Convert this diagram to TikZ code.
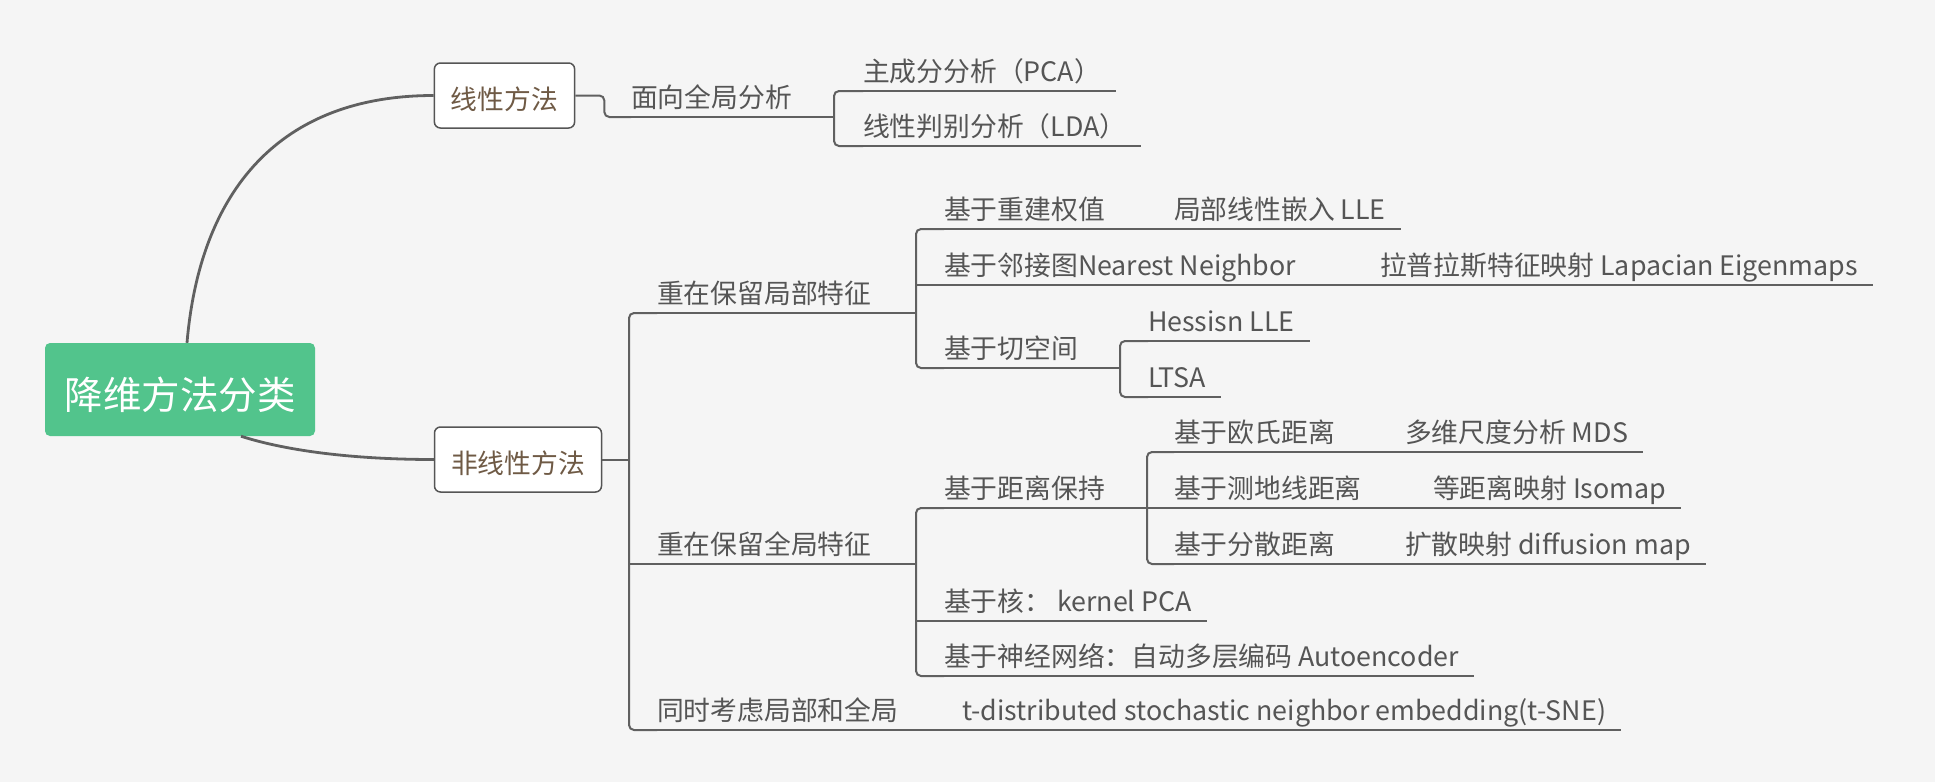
\documentclass[tikz,border=0pt]{standalone}
\usepackage{fontspec}
\setmainfont{Noto Sans CJK SC}
\usetikzlibrary{calc}

\definecolor{bggray}{HTML}{F5F5F5}
\definecolor{rootgreen}{HTML}{52C48C}
\definecolor{linegray}{HTML}{606060}
\definecolor{boxgray}{HTML}{555555}
\definecolor{boxbrown}{HTML}{6F5A45}
\definecolor{textgray}{HTML}{555555}

\newcommand{\topicfont}{\fontsize{26.8}{30}\selectfont}

\tikzset{
  link/.style={draw=linegray, line width=2pt},
  trunk/.style={draw=linegray, line width=2.8pt},
  topic/.style={anchor=south west, inner xsep=0pt, inner ysep=9.5pt, outer sep=0pt,
    text height=19pt, text depth=0pt, text=textgray, font=\topicfont},
  mainbox/.style={draw=boxgray, line width=1.5pt, fill=white, rounded corners=6pt,
    minimum height=65pt, inner xsep=16.5pt, text height=27pt, text depth=0pt,
    text=boxbrown, font=\topicfont},
  rootbox/.style={fill=rootgreen, rounded corners=5pt, minimum width=270pt,
    minimum height=93pt, text height=41pt, text depth=2pt, text=white,
    font=\fontsize{38.5}{44}\selectfont}
}

\begin{document}
\begin{tikzpicture}[x=1pt, y=-1pt]
    % Canvas
    \useasboundingbox (0,0) rectangle (1935,782);
    \fill[bggray] (0,0) rectangle (1935,782);

    % Root and main branches
    \node[rootbox] (root) at (180,389.5) {降维方法分类};
    \node[mainbox] (linear) at (504.5,95.5) {线性方法};
    \node[mainbox] (nonlinear) at (518,459.5) {非线性方法};
    \draw[trunk] ([xshift=7pt]root.north) .. controls (200,190) and (280,95.5) .. (linear.west);
    \draw[trunk] ([xshift=61pt]root.south) .. controls (290,452) and (360,459.5) .. (nonlinear.west);

    % Linear topics
    \node[topic] (face) at (631,117) {面向全局分析};
    \node[topic] (pca) at (863,91) {主成分分析（PCA）};
    \node[topic] (lda) at (863,146) {线性判别分析（LDA）};

    % Nonlinear topics
    \node[topic] (local) at (657,313) {重在保留局部特征};
    \node[topic] (global) at (657,564) {重在保留全局特征};
    \node[topic] (both) at (657,730) {同时考虑局部和全局};
    \node[topic] (tsne) at (962,730) {t-distributed stochastic neighbor embedding(t-SNE)};

    % Local features
    \node[topic] (recon) at (944,229) {基于重建权值};
    \node[topic] (lle) at (1174,229) {局部线性嵌入 LLE};
    \node[topic] (adj) at (944,285) {基于邻接图Nearest Neighbor};
    \node[topic] (lap) at (1380,285) {拉普拉斯特征映射 Lapacian Eigenmaps};
    \node[topic] (tang) at (944,368) {基于切空间};
    \node[topic] (hess) at (1148,341) {Hessisn LLE};
    \node[topic] (ltsa) at (1148,397) {LTSA};

    % Global features
    \node[topic] (dist) at (944,508) {基于距离保持};
    \node[topic] (eucl) at (1174,452) {基于欧氏距离};
    \node[topic] (mds) at (1405,452) {多维尺度分析 MDS};
    \node[topic] (geo) at (1174,508) {基于测地线距离};
    \node[topic] (iso) at (1433,508) {等距离映射 Isomap};
    \node[topic] (diff) at (1174,564) {基于分散距离};
    \node[topic] (dmap) at (1405,564) {扩散映射 diffusion map};
    \node[topic] (kern) at (944,621) {基于核： kernel PCA};
    \node[topic] (auto) at (944,676) {基于神经网络：自动多层编码 Autoencoder};

    % Fork points
    \coordinate (fk0) at ([xshift=-28pt]local.south west);
    \coordinate (fk1) at ([xshift=-29pt]pca.south west);
    \coordinate (fk2) at ([xshift=-28pt]recon.south west);
    \coordinate (fk3) at ([xshift=-28pt]hess.south west);
    \coordinate (fk4) at ([xshift=-28pt]dist.south west);
    \coordinate (fk5) at ([xshift=-27pt]eucl.south west);

    % Linear links
    \draw[link, rounded corners=5pt] (linear.east) -- ++(29,0) |- (face.south west);
    \draw[link] (face.south west) -- (fk1 |- face.south);
    \draw[link, rounded corners=5pt] (pca.south west) -- (fk1) |- (lda.south west);

    % Nonlinear links
    \draw[link] (nonlinear.east) -- (fk0 |- nonlinear.east);
    \draw[link, rounded corners=5pt] (local.south west) -- (fk0) |- (both.south west);
    \draw[link] (local.south west) -- (fk2 |- local.south);
    \draw[link] (fk0 |- global.south) -- (fk4 |- global.south);

    \draw[link, rounded corners=5pt] (recon.south west) -- (fk2) |- (tang.south west);
    \draw[link] (fk2 |- adj.south) -- (lap.south west);
    \draw[link] (tang.south west) -- (fk3 |- tang.south);
    \draw[link, rounded corners=5pt] (hess.south west) -- (fk3) |- (ltsa.south west);

    \draw[link, rounded corners=5pt] (dist.south west) -- (fk4) |- (auto.south west);
    \draw[link] (fk4 |- kern.south) -- (kern.south west);
    \draw[link] (dist.south west) -- (fk5 |- dist.south);
    \draw[link, rounded corners=5pt] (eucl.south west) -- (fk5) |- (diff.south west);
    \draw[link] (fk5 |- geo.south) -- (iso.south west);

    % Inline children
    \foreach \a/\b in {recon/lle, both/tsne, eucl/mds, diff/dmap}
      \draw[link] (\a.south west) -- (\b.south west);

    % Leaf underlines
    \foreach \n in {pca, lda, lle, lap, hess, ltsa, mds, iso, dmap, kern, auto, tsne}
      \draw[link] (\n.south west) -- ([xshift=15pt]\n.south east);
\end{tikzpicture}
\end{document}
